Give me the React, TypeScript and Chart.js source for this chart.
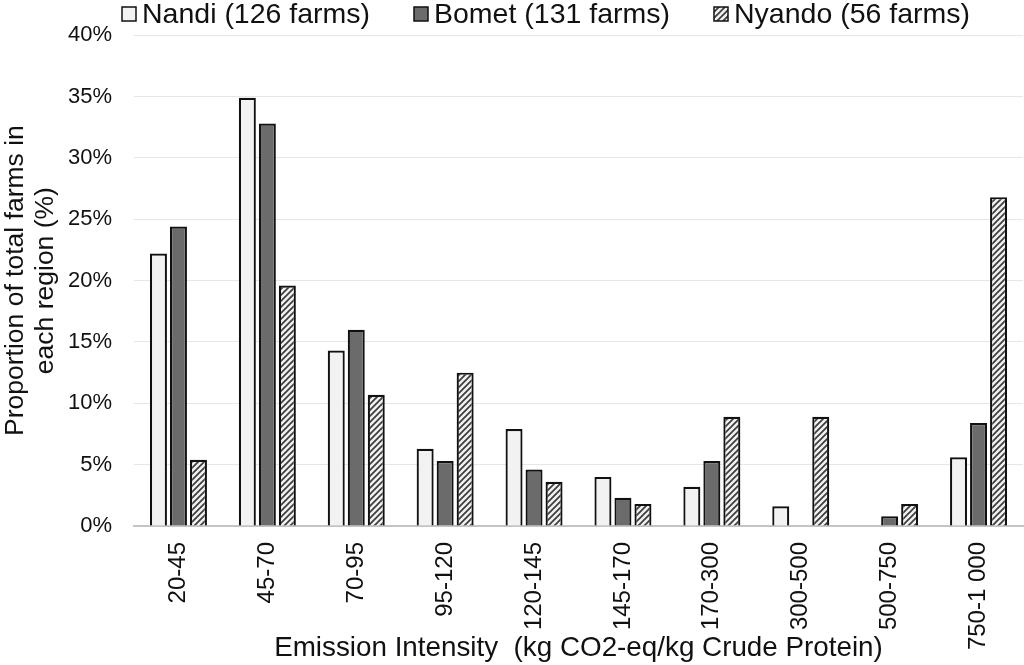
import React, { useEffect, useRef } from "react";
import { Chart, registerables } from "chart.js";

Chart.register(...registerables);

const categories = ["20-45", "45-70", "70-95", "95-120", "120-145", "145-170", "170-300", "300-500", "500-750", "750-1 000"];
const nandi = [22.2, 34.9, 14.3, 6.3, 7.9, 4.0, 3.2, 1.6, 0, 5.6];
const bomet = [24.4, 32.8, 16.0, 5.3, 4.6, 2.3, 5.3, 0, 0.8, 8.4];
const nyando = [5.4, 19.6, 10.7, 12.5, 3.6, 1.8, 8.9, 8.9, 1.8, 26.8];
const seriesLabels = ["Nandi (126 farms)", "Bomet (131 farms)", "Nyando (56 farms)"];
const yTitle = ["Proportion of total farms in", "each region (%)"];
const xTitle = "Emission Intensity  (kg CO2-eq/kg Crude Protein)";

const FONT = "'Liberation Sans', Arial, sans-serif";
const legendBoxX = [122, 414, 714];

function makeHatch(): CanvasPattern | string {
  const s = 6;
  const c = document.createElement("canvas");
  c.width = s;
  c.height = s;
  const ctx = c.getContext("2d");
  if (!ctx) return "#999";
  ctx.fillStyle = "#f0f0f0";
  ctx.fillRect(0, 0, s, s);
  ctx.strokeStyle = "#3c3c3c";
  ctx.lineWidth = 1.7;
  ctx.beginPath();
  ctx.moveTo(0, s);
  ctx.lineTo(s, 0);
  ctx.moveTo(-1, 1);
  ctx.lineTo(1, -1);
  ctx.moveTo(s - 1, s + 1);
  ctx.lineTo(s + 1, s - 1);
  ctx.stroke();
  const p = ctx.createPattern(c, "repeat");
  return p || "#999";
}

const customLegend = {
  id: "customLegend",
  afterDraw(chart: any) {
    const ctx = chart.ctx;
    ctx.save();
    chart.data.datasets.forEach((ds: any, i: number) => {
      const x = legendBoxX[i];
      const y = 7;
      ctx.fillStyle = ds.backgroundColor;
      ctx.fillRect(x, y, 14, 14);
      ctx.strokeStyle = "#111";
      ctx.lineWidth = 1.5;
      ctx.strokeRect(x, y, 14, 14);
      ctx.fillStyle = "#111";
      ctx.font = `28.5px ${FONT}`;
      ctx.textBaseline = "middle";
      ctx.textAlign = "left";
      ctx.fillText(ds.label, x + 20, 15);
    });
    ctx.restore();
  },
};

export default function App() {
  const ref = useRef<HTMLCanvasElement>(null);
  useEffect(() => {
    if (!ref.current) return;
    const hatch = makeHatch();
    const common = {
      borderColor: "#111",
      borderWidth: 2.2,
      categoryPercentage: 0.675,
      barPercentage: 0.85,
    };
    const chart = new Chart(ref.current, {
      type: "bar",
      data: {
        labels: categories,
        datasets: [
          { label: seriesLabels[0], data: nandi, backgroundColor: "#f2f2f2", ...common },
          { label: seriesLabels[1], data: bomet, backgroundColor: "#6b6b6b", ...common },
          { label: seriesLabels[2], data: nyando, backgroundColor: hatch as any, ...common },
        ],
      },
      plugins: [customLegend],
      options: {
        animation: false,
        responsive: false,
        maintainAspectRatio: false,
        layout: { padding: { left: 0, right: 1, top: 35, bottom: 0 } },
        plugins: {
          tooltip: { enabled: false },
          legend: { display: false },
        },
        scales: {
          x: {
            grid: { display: false, drawTicks: false },
            border: { display: true, color: "#c4c4c4", width: 2 },
            ticks: {
              font: { family: FONT, size: 24 },
              color: "#111",
              maxRotation: 90,
              minRotation: 90,
              padding: 16,
            },
            title: {
              display: true,
              text: xTitle,
              font: { family: FONT, size: 27.8 },
              color: "#111",
              padding: { top: 0, bottom: 0 },
            },
            afterFit: (s: any) => {
              s.height = 139;
            },
          },
          y: {
            min: 0,
            max: 40,
            grid: { color: "#e6e6e6", lineWidth: 1, drawTicks: false },
            border: { display: false },
            ticks: {
              stepSize: 5,
              font: { family: FONT, size: 22 },
              color: "#111",
              padding: 22,
              callback: (v: any) => v + "%",
            },
            title: {
              display: true,
              text: yTitle,
              font: { family: FONT, size: 26.5, lineHeight: 1.12 },
              color: "#111",
              padding: { top: 1, bottom: 0 },
            },
            afterFit: (s: any) => {
              s.width = 134;
            },
          },
        },
      },
    });
    return () => chart.destroy();
  }, []);
  return (
    <div style={{ position: "absolute", left: 0, top: 0, width: 1024, height: 665, background: "#fff" }}>
      <canvas ref={ref} width={1024} height={665} style={{ width: 1024, height: 665 }} />
    </div>
  );
}
